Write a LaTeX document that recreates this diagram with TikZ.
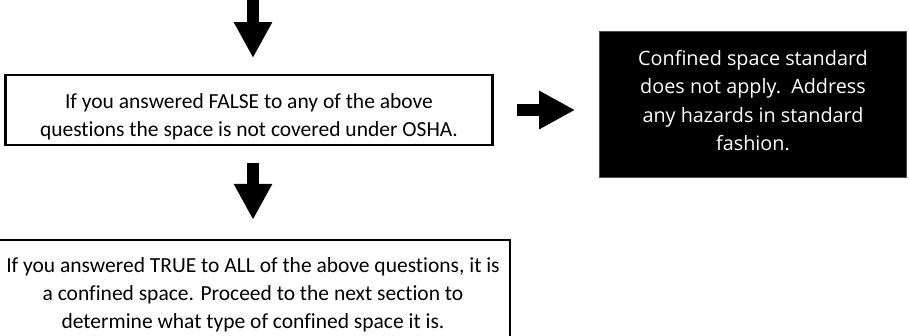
\documentclass[tikz,border=0pt]{standalone}
\usepackage{fontspec}
\setmainfont{Carlito}[Ligatures=NoCommon]
\newfontfamily\outcomefont{Open Sans}
\usetikzlibrary{arrows.meta}

\begin{document}
\begin{tikzpicture}[x=1pt, y=-1pt]
%
% Skiss:
%            |
%            V
% FALSE to any? ---> Standard does not apply
%            |
%            V
% TRUE to ALL -> confined space
%
\tikzstyle{question} = [rectangle, draw=black, line width=2.4pt, fill=white, text centered, align=center, font=\fontsize{21.5}{28.2}\selectfont]
\tikzstyle{outcome} = [rectangle, draw=black!70, line width=0.8pt, fill=black, text=white, text centered, align=center, font=\outcomefont\fontsize{19.8}{28.3}\selectfont]
\tikzstyle{blockarrow} = [line width=12.5pt, -{Triangle[width=36pt, length=36pt]}]
\useasboundingbox (0,0) rectangle (909,335);
% Nodes
\node (falsebox) [question, minimum width=487pt, minimum height=69.6pt, text height=56pt] at (249,110) {If you answered FALSE to any of the above\\questions the space is not covered under OSHA.};
\node (notapply) [outcome, minimum width=307pt, minimum height=146pt, text depth=8pt] at (753,104.5) {Confined space standard\\does not apply.\ \ Address\\any hazards in standard\\fashion.};
\node (truebox) [question, minimum width=514pt, minimum height=104pt, text height=77pt] at (253,292) {If you answered TRUE to ALL of the above questions, it is\\a confined space. Proceed to the next section to\\determine what type of confined space it is.};
\coordinate (topin) at (253,0);
% Arrows
\draw [blockarrow, shorten >=16pt] (topin) -- (topin |- falsebox.north);
\draw [blockarrow, shorten <=17pt, shorten >=19pt] (truebox.north |- falsebox.south) -- (truebox.north);
\draw [blockarrow, shorten <=23pt, shorten >=24pt] (falsebox.east) -- (notapply.west |- falsebox.east);
\end{tikzpicture}
\end{document}
